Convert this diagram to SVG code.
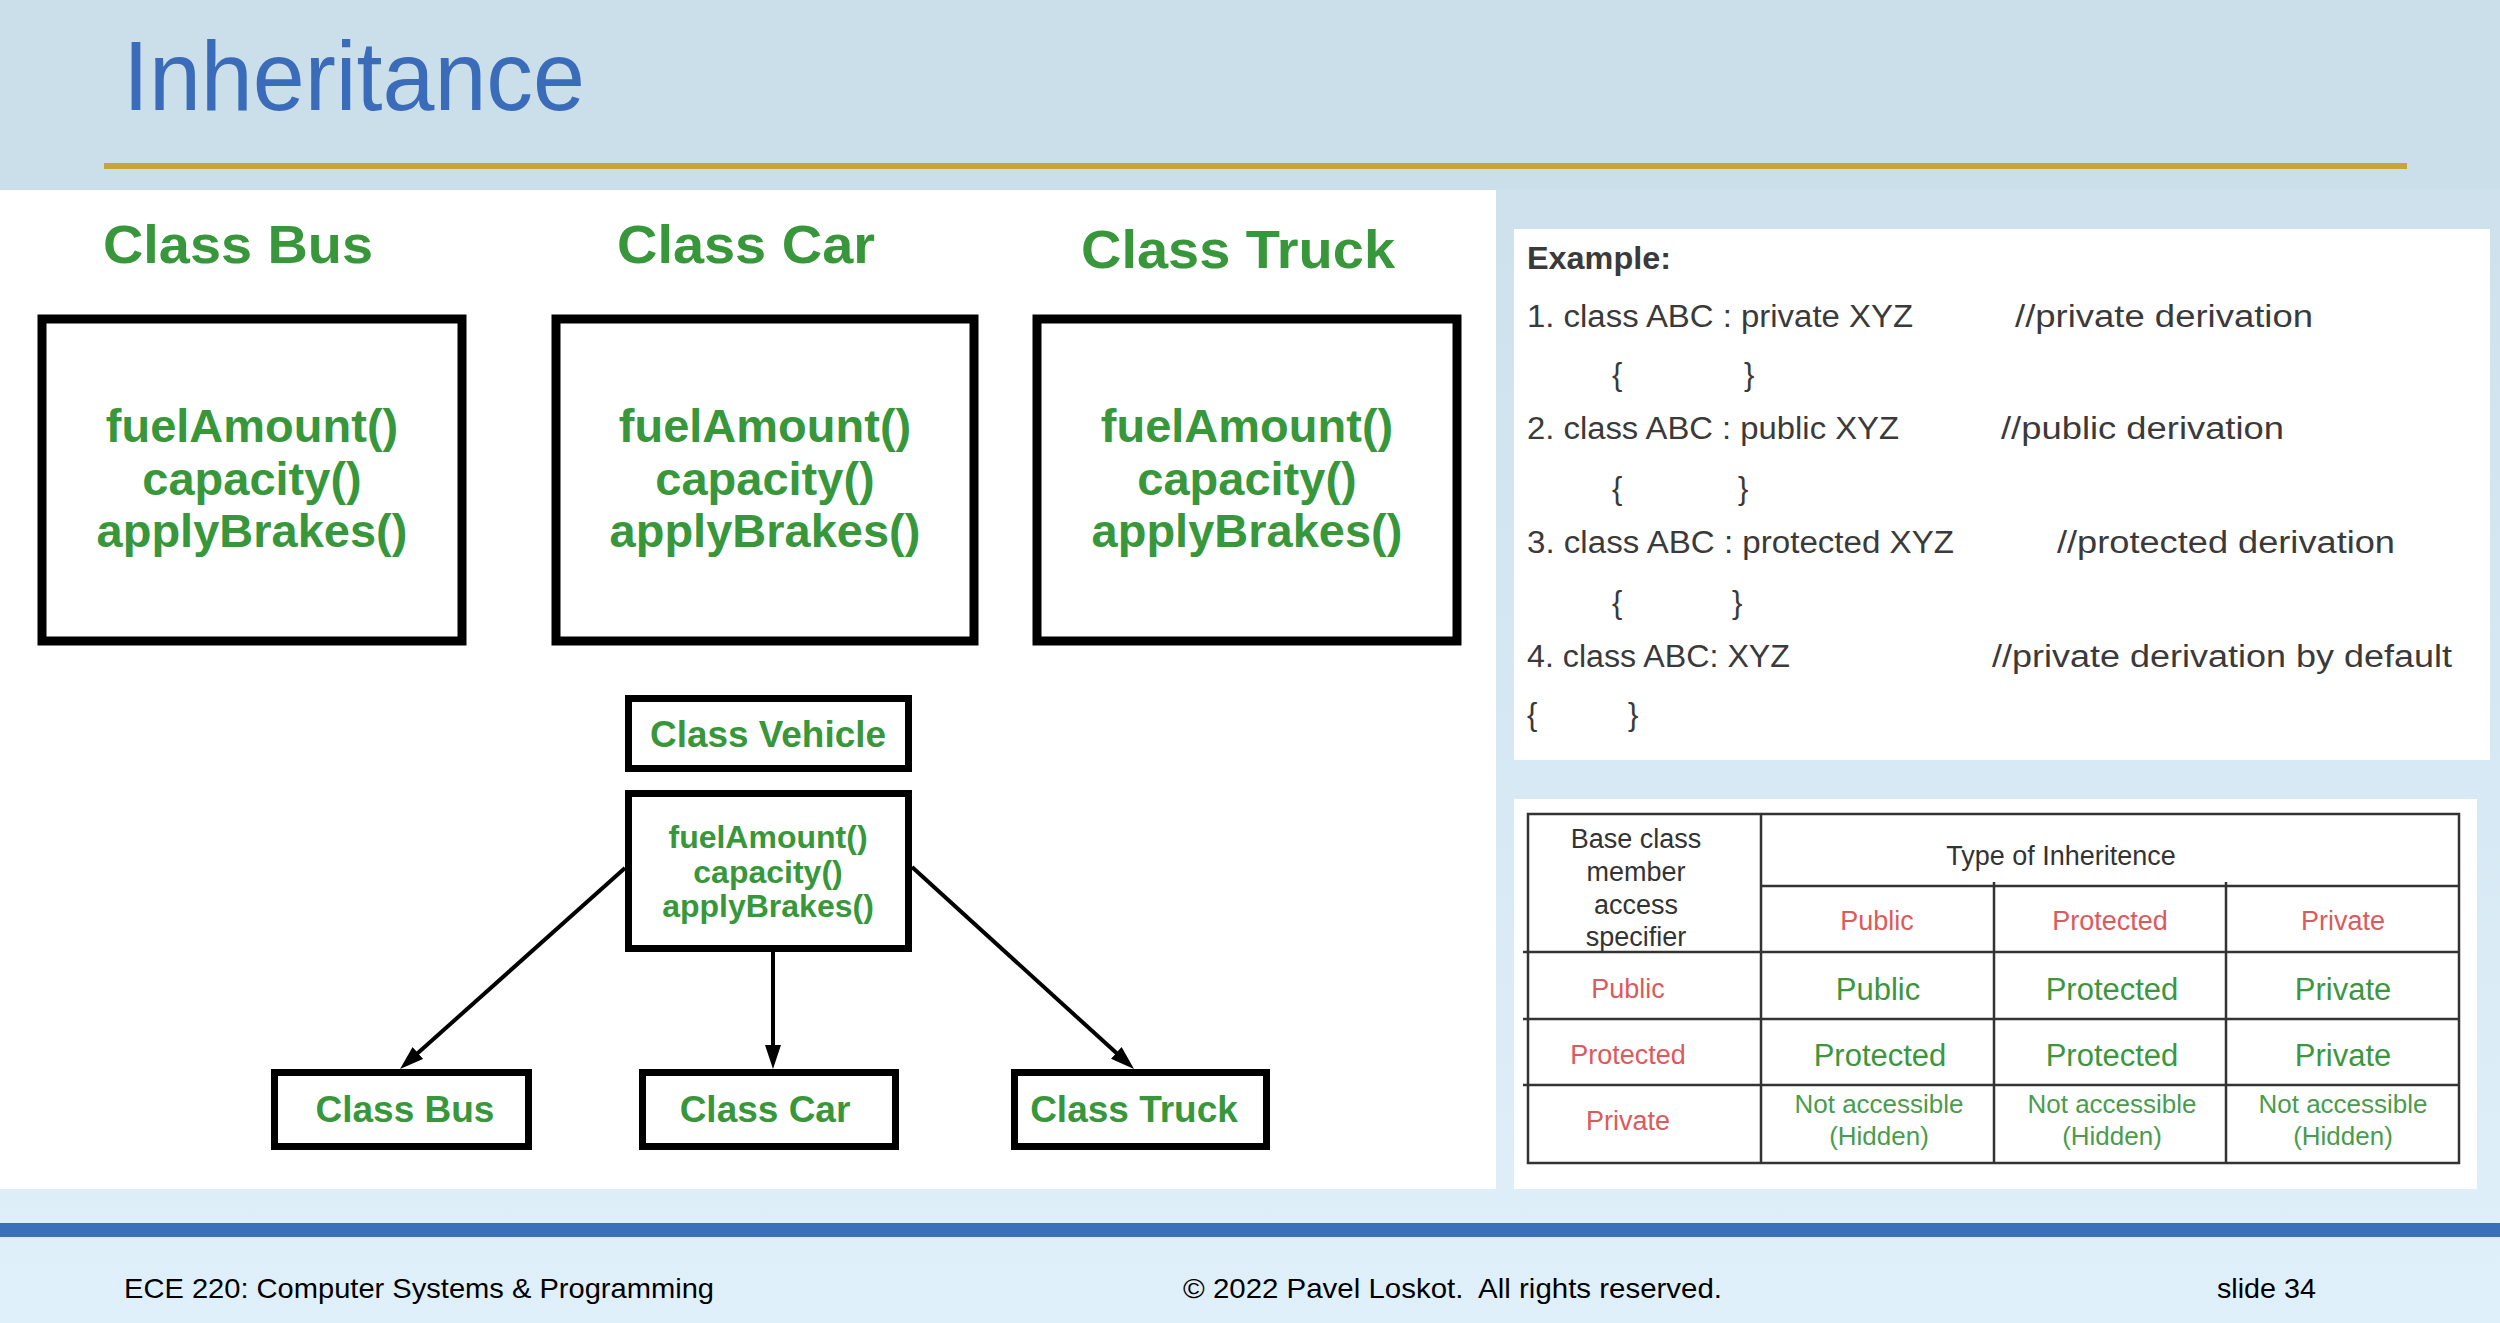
<svg xmlns="http://www.w3.org/2000/svg" width="2500" height="1323" viewBox="0 0 2500 1323">
<defs>
<linearGradient id="bg" x1="0" y1="0" x2="0" y2="1">
<stop offset="0" stop-color="#cadeea"/>
<stop offset="1" stop-color="#e0f0fb"/>
</linearGradient>
<marker id="arr" markerUnits="userSpaceOnUse" viewBox="0 0 24 16" markerWidth="24" markerHeight="16" refX="14" refY="8" orient="auto">
<path d="M0,0 L24,8 L0,16 z" fill="#000"/>
</marker>
<style>
.g{fill:#38973a;font-family:"Liberation Sans",Arial,sans-serif;font-weight:bold;text-anchor:middle}
.big{fill:#fff;stroke:#000;stroke-width:9}
.sm{fill:#fff;stroke:#000;stroke-width:7}
.ex{fill:#3a3a3a;font-family:"Liberation Sans",Arial,sans-serif;font-size:31px}
.tl{stroke:#333;stroke-width:2.5;fill:none}
.tg{fill:#333;font-family:"Liberation Sans",Arial,sans-serif;font-size:27px;text-anchor:middle}
.tr{fill:#dc5a5c;font-family:"Liberation Sans",Arial,sans-serif;font-size:27px;text-anchor:middle}
.tv{fill:#3d963f;font-family:"Liberation Sans",Arial,sans-serif;font-size:31px;text-anchor:middle}
.tn{fill:#4a9c4c;font-family:"Liberation Sans",Arial,sans-serif;font-size:26px;text-anchor:middle}
.ft{fill:#000;font-family:"Liberation Sans",Arial,sans-serif;font-size:28px}
.conn line{stroke:#000;stroke-width:4;marker-end:url(#arr)}
</style>
</defs>
<rect x="0" y="0" width="2500" height="1323" fill="url(#bg)"/>
<rect x="0" y="0" width="2500" height="190" fill="#cbdfea"/>
<text x="123" y="110" font-family="'Liberation Sans',Arial,sans-serif" font-size="98" fill="#3a6cb9" textLength="462" lengthAdjust="spacingAndGlyphs">Inheritance</text>
<rect x="104" y="163" width="2303" height="6" fill="#c9a43a"/>

<rect x="0" y="190" width="1496" height="999" fill="#fff"/>
<rect x="1514" y="229" width="976" height="531" fill="#fff"/>
<rect x="1514" y="799" width="963" height="390" fill="#fff"/>

<g id="heading-bus"><text class="g" x="238" y="263" font-size="54" textLength="270" lengthAdjust="spacingAndGlyphs">Class Bus</text></g>
<g id="heading-car"><text class="g" x="746" y="263" font-size="54" textLength="258" lengthAdjust="spacingAndGlyphs">Class Car</text></g>
<g id="heading-truck"><text class="g" x="1238" y="268" font-size="54" textLength="314" lengthAdjust="spacingAndGlyphs">Class Truck</text></g>

<g id="box-bus">
<rect class="big" x="42" y="319" width="420" height="322"/>
<text class="g" font-size="47" x="252" y="442">fuelAmount()</text>
<text class="g" font-size="47" x="252" y="495">capacity()</text>
<text class="g" font-size="47" x="252" y="547">applyBrakes()</text>
</g>
<g id="box-car">
<rect class="big" x="556" y="319" width="418" height="322"/>
<text class="g" font-size="47" x="765" y="442">fuelAmount()</text>
<text class="g" font-size="47" x="765" y="495">capacity()</text>
<text class="g" font-size="47" x="765" y="547">applyBrakes()</text>
</g>
<g id="box-truck">
<rect class="big" x="1037" y="319" width="420" height="322"/>
<text class="g" font-size="47" x="1247" y="442">fuelAmount()</text>
<text class="g" font-size="47" x="1247" y="495">capacity()</text>
<text class="g" font-size="47" x="1247" y="547">applyBrakes()</text>
</g>

<g id="vehicle-name">
<rect class="sm" x="628.5" y="698.5" width="280" height="70"/>
<text class="g" font-size="36" x="768" y="747" textLength="236" lengthAdjust="spacingAndGlyphs">Class Vehicle</text>
</g>
<g id="vehicle-methods">
<rect class="sm" x="628.5" y="793.5" width="280" height="155"/>
<text class="g" font-size="32" x="768" y="848">fuelAmount()</text>
<text class="g" font-size="32" x="768" y="883">capacity()</text>
<text class="g" font-size="32" x="768" y="917">applyBrakes()</text>
</g>
<g id="child-bus">
<rect class="sm" x="274.5" y="1072.5" width="254" height="74"/>
<text class="g" font-size="37" x="405" y="1122">Class Bus</text>
</g>
<g id="child-car">
<rect class="sm" x="642.5" y="1072.5" width="253" height="74"/>
<text class="g" font-size="37" x="765" y="1122">Class Car</text>
</g>
<g id="child-truck">
<rect class="sm" x="1014.5" y="1072.5" width="252" height="74"/>
<text class="g" font-size="37" x="1134" y="1122">Class Truck</text>
</g>

<g id="connectors" class="conn">
<line x1="625" y1="868" x2="407.5" y2="1062.3"/>
<line x1="773" y1="952" x2="773" y2="1059"/>
<line x1="912" y1="867" x2="1126.6" y2="1062.3"/>
</g>

<g id="example">
<text class="ex" x="1527" y="269" font-weight="bold" font-size="31" textLength="144" lengthAdjust="spacingAndGlyphs">Example:</text>
<text class="ex" x="1527" y="327" textLength="386" lengthAdjust="spacingAndGlyphs">1. class ABC : private XYZ</text>
<text class="ex" x="2015" y="327" textLength="298" lengthAdjust="spacingAndGlyphs">//private derivation</text>
<text class="ex" x="1612" y="385">{</text><text class="ex" x="1744" y="385">}</text>
<text class="ex" x="1527" y="439" textLength="372" lengthAdjust="spacingAndGlyphs">2. class ABC : public XYZ</text>
<text class="ex" x="2001" y="439" textLength="283" lengthAdjust="spacingAndGlyphs">//public derivation</text>
<text class="ex" x="1612" y="499">{</text><text class="ex" x="1738" y="499">}</text>
<text class="ex" x="1527" y="553" textLength="427" lengthAdjust="spacingAndGlyphs">3. class ABC : protected XYZ</text>
<text class="ex" x="2057" y="553" textLength="338" lengthAdjust="spacingAndGlyphs">//protected derivation</text>
<text class="ex" x="1612" y="613">{</text><text class="ex" x="1732" y="613">}</text>
<text class="ex" x="1527" y="667" textLength="263" lengthAdjust="spacingAndGlyphs">4. class ABC: XYZ</text>
<text class="ex" x="1992" y="667" textLength="460" lengthAdjust="spacingAndGlyphs">//private derivation by default</text>
<text class="ex" x="1527" y="725">{</text><text class="ex" x="1628" y="725">}</text>
</g>

<g id="table">
<rect class="tl" x="1528" y="814" width="931" height="349"/>
<line class="tl" x1="1761" y1="814" x2="1761" y2="1163"/>
<line class="tl" x1="1994" y1="882" x2="1994" y2="1163"/>
<line class="tl" x1="2226" y1="882" x2="2226" y2="1163"/>
<line class="tl" x1="1761" y1="886" x2="2459" y2="886"/>
<line class="tl" x1="1523" y1="952" x2="2459" y2="952"/>
<line class="tl" x1="1523" y1="1019" x2="2459" y2="1019"/>
<line class="tl" x1="1523" y1="1085" x2="2459" y2="1085"/>
<text class="tg" x="1636" y="848">Base class</text>
<text class="tg" x="1636" y="881">member</text>
<text class="tg" x="1636" y="914">access</text>
<text class="tg" x="1636" y="946">specifier</text>
<text class="tg" x="2061" y="865">Type of Inheritence</text>
<text class="tr" x="1877" y="930">Public</text>
<text class="tr" x="2110" y="930">Protected</text>
<text class="tr" x="2343" y="930">Private</text>
<text class="tr" x="1628" y="998">Public</text>
<text class="tr" x="1628" y="1064">Protected</text>
<text class="tr" x="1628" y="1130">Private</text>
<text class="tv" x="1878" y="1000">Public</text>
<text class="tv" x="2112" y="1000">Protected</text>
<text class="tv" x="2343" y="1000">Private</text>
<text class="tv" x="1880" y="1066">Protected</text>
<text class="tv" x="2112" y="1066">Protected</text>
<text class="tv" x="2343" y="1066">Private</text>
<text class="tn" x="1879" y="1113">Not accessible</text>
<text class="tn" x="1879" y="1145">(Hidden)</text>
<text class="tn" x="2112" y="1113">Not accessible</text>
<text class="tn" x="2112" y="1145">(Hidden)</text>
<text class="tn" x="2343" y="1113">Not accessible</text>
<text class="tn" x="2343" y="1145">(Hidden)</text>
</g>

<rect x="0" y="1223" width="2500" height="14" fill="#3a6fba"/>
<text class="ft" x="124" y="1298" textLength="590" lengthAdjust="spacingAndGlyphs">ECE 220: Computer Systems &amp; Programming</text>
<text class="ft" x="1183" y="1298" textLength="539" lengthAdjust="spacingAndGlyphs">© 2022 Pavel Loskot.&#160; All rights reserved.</text>
<text class="ft" x="2217" y="1298" textLength="99" lengthAdjust="spacingAndGlyphs">slide 34</text>
</svg>
